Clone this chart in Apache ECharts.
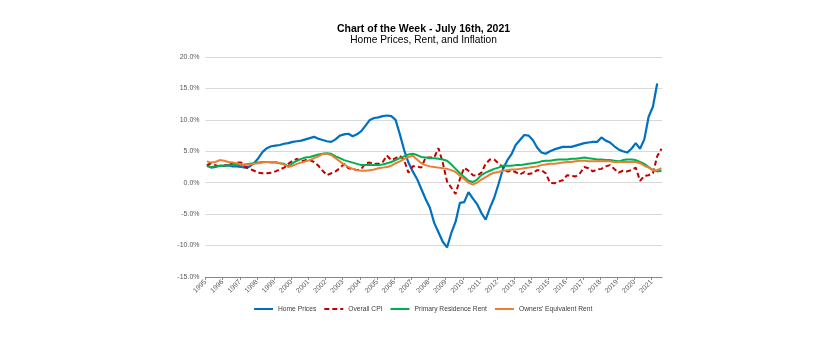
<!DOCTYPE html>
<html><head><meta charset="utf-8">
<script src="https://cdn.jsdelivr.net/npm/echarts@6.0.0/dist/echarts.min.js"></script>
<style>html,body{margin:0;padding:0;background:#fff}#c{width:830px;height:340px}</style>
</head><body><div id="c"></div>
<script>
const titleText = 'Chart of the Week - July 16th, 2021';
const subtitleText = 'Home Prices, Rent, and Inflation';
const seriesNames = ['Home Prices', 'Overall CPI', 'Primary Residence Rent', "Owners' Equivalent Rent"];
const yearTicks = [1995,1996,1997,1998,1999,2000,2001,2002,2003,2004,2005,2006,2007,2008,2009,2010,2011,2012,2013,2014,2015,2016,2017,2018,2019,2020,2021];

// quarterly observation dates (decimal years)
const dates = [
 1995.08,1995.33,1995.58,1995.83, 1996.08,1996.33,1996.58,1996.83,
 1997.08,1997.33,1997.58,1997.83, 1998.08,1998.33,1998.58,1998.83,
 1999.08,1999.33,1999.58,1999.83, 2000.08,2000.33,2000.58,2000.83,
 2001.08,2001.33,2001.58,2001.83, 2002.08,2002.33,2002.58,2002.83,
 2003.08,2003.33,2003.58,2003.83, 2004.08,2004.33,2004.58,2004.83,
 2005.08,2005.33,2005.58,2005.83, 2006.08,2006.33,2006.58,2006.83,
 2007.08,2007.33,2007.58,2007.83, 2008.08,2008.33,2008.58,2008.83,
 2009.08,2009.33,2009.58,2009.83, 2010.08,2010.33,2010.58,2010.83,
 2011.08,2011.33,2011.58,2011.83, 2012.08,2012.33,2012.58,2012.83,
 2013.08,2013.33,2013.58,2013.83, 2014.08,2014.33,2014.58,2014.83,
 2015.08,2015.33,2015.58,2015.83, 2016.08,2016.33,2016.58,2016.83,
 2017.08,2017.33,2017.58,2017.83, 2018.08,2018.33,2018.58,2018.83,
 2019.08,2019.33,2019.58,2019.83, 2020.08,2020.33,2020.58,2020.83,
 2021.08,2021.33,2021.58
];

const homePrices = [
 2.8,2.4,2.5,2.7, 2.7,2.8,2.6,2.6, 2.5,2.4,2.6,3.1, 3.9,4.9,5.5,5.8,
 5.9,6.0,6.2,6.3, 6.5,6.6,6.7,6.9, 7.1,7.3,7.0,6.8, 6.6,6.5,6.9,7.5,
 7.7,7.8,7.4,7.7, 8.2,9.1,10.0,10.3, 10.4,10.6,10.7,10.6, 10.0,7.7,5.2,3.2,
 1.8,0.6,-1.0,-2.6, -4.0,-6.4,-7.9,-9.4, -10.3,-8.0,-6.2,-3.2, -3.1,-1.5,-2.5,-3.4,
 -4.8,-5.9,-4.0,-2.4, -0.2,2.1,3.5,4.5, 6.0,6.8,7.6,7.5, 6.8,5.6,4.8,4.6,
 5.0,5.3,5.5,5.7, 5.7,5.7,5.9,6.1, 6.3,6.4,6.5,6.5, 7.2,6.7,6.4,5.8,
 5.3,5.0,4.8,5.4, 6.3,5.4,6.9,10.5, 12.1,15.8
];
const overallCPI = [
 2.8,3.1,2.8,2.6, 2.7,2.9,3.0,3.2, 3.2,2.5,2.2,1.9, 1.6,1.5,1.5,1.6,
 1.8,2.1,2.4,3.0, 3.5,3.8,3.4,3.6, 3.6,3.3,2.7,1.9, 1.2,1.5,1.8,2.3,
 3.0,2.3,2.2,2.0, 2.2,3.1,3.2,3.0, 3.0,3.3,4.3,3.6, 3.9,4.3,3.6,1.6,
 2.6,2.6,2.4,4.0, 4.0,4.0,5.5,3.2, 0.2,-0.8,-1.8,0.6, 2.4,1.9,1.2,1.1,
 1.6,3.0,3.7,3.7, 3.1,2.5,1.8,1.9, 1.7,1.3,1.7,1.4, 1.5,2.0,2.0,1.5,
 0.0,-0.1,0.2,0.4, 1.2,1.1,1.0,1.5, 2.5,2.3,1.8,2.1, 2.2,2.6,2.8,2.2,
 1.6,1.9,1.8,2.0, 2.4,0.3,1.1,1.2, 1.5,4.2,5.4
];
const primaryRent = [
 2.6,2.5,2.6,2.7, 2.7,2.7,2.8,2.8, 2.8,2.9,3.0,3.1, 3.2,3.3,3.3,3.2,
 3.2,3.1,3.0,2.6, 3.1,3.5,3.8,4.0, 4.1,4.3,4.5,4.6, 4.7,4.6,4.2,3.9,
 3.6,3.4,3.2,3.0, 2.8,2.8,2.8,2.8, 2.8,2.9,3.1,3.3, 3.6,3.9,4.2,4.5,
 4.6,4.4,4.1,4.0, 3.9,3.9,3.8,3.7, 3.5,2.9,2.2,1.5, 0.9,0.3,0.1,0.5,
 1.2,1.6,1.9,2.2, 2.4,2.7,2.7,2.7, 2.8,2.8,2.9,3.0, 3.1,3.2,3.4,3.5,
 3.5,3.6,3.7,3.7, 3.7,3.8,3.8,3.9, 4.0,3.9,3.8,3.7, 3.7,3.6,3.6,3.5,
 3.4,3.6,3.7,3.7, 3.6,3.3,3.0,2.5, 2.0,1.8,1.9
];
const ownersRent = [
 3.4,3.2,3.3,3.6, 3.5,3.3,3.2,3.1, 2.9,2.9,2.9,3.0, 3.1,3.2,3.3,3.3,
 3.3,3.1,2.9,2.5, 2.7,3.0,3.2,3.4, 3.6,3.9,4.2,4.6, 4.6,4.4,3.9,3.4,
 2.9,2.5,2.2,2.0, 1.9,1.9,2.0,2.1, 2.3,2.4,2.5,2.7, 3.1,3.4,3.8,4.1,
 4.3,3.7,3.1,2.8, 2.6,2.5,2.4,2.3, 2.2,2.0,1.7,1.1, 0.6,0.0,-0.3,0.0,
 0.5,0.9,1.3,1.6, 1.7,1.9,2.0,2.1, 2.1,2.2,2.3,2.4, 2.5,2.6,2.8,2.9,
 3.0,3.0,3.1,3.2, 3.3,3.3,3.4,3.5, 3.5,3.4,3.4,3.4, 3.4,3.4,3.4,3.3,
 3.3,3.3,3.3,3.3, 3.3,3.1,2.7,2.4, 2.0,2.0,2.3
];

const FONT = '"Liberation Sans", Arial, sans-serif';
const pairs = vals => vals.map((v, i) => [dates[i], v]);
const chart = echarts.init(document.getElementById('c'), null, {renderer: 'canvas'});
const xMin = 1995, xMax = 2021.61;

chart.setOption({
  animation: false,
  backgroundColor: '#ffffff',
  graphic: [
    {type: 'text', x: 423.5, y: 29.5, style: {text: titleText, fontSize: 10.5, fontWeight: 'bold', fontFamily: FONT, fill: '#000', align: 'center', verticalAlign: 'middle'}},
    {type: 'text', x: 423.5, y: 39.8, style: {text: subtitleText, fontSize: 10.2, fontFamily: FONT, fill: '#000', align: 'center', verticalAlign: 'middle'}}
  ],
  grid: {left: 205.5, right: 168, top: 57.1, bottom: 63.1, outerBoundsMode: 'none', containLabel: false},
  legend: {
    left: 253, top: 305.5, padding: 0, itemWidth: 19, itemHeight: 8, itemGap: 7,
    itemStyle: {opacity: 0},
    textStyle: {fontSize: 6.7, color: '#404040', fontFamily: FONT},
    data: seriesNames
  },
  xAxis: [
    {
      type: 'value', min: xMin, max: xMax, interval: 1, position: 'bottom',
      axisLine: {show: false}, axisTick: {show: false}, splitLine: {show: false},
      axisLabel: {customValues: yearTicks, rotate: 45, fontSize: 7, color: '#595959', margin: 4, fontFamily: FONT, formatter: v => String(v)}
    },
    {
      type: 'value', min: xMin, max: xMax, interval: 1, position: 'bottom',
      axisLine: {show: true, onZero: true, lineStyle: {color: '#868686', width: 1}},
      axisTick: {show: true, customValues: yearTicks, length: 3, lineStyle: {color: '#868686'}},
      axisLabel: {show: false}, splitLine: {show: false}
    }
  ],
  yAxis: {
    type: 'value', min: -15, max: 20, interval: 5,
    axisLine: {show: false}, axisTick: {show: false},
    splitLine: {show: true, lineStyle: {color: '#d9d9d9', width: 1}},
    axisLabel: {fontSize: 7, color: '#595959', margin: 6, fontFamily: FONT, formatter: v => v.toFixed(1) + '%'}
  },
  series: [
    {name: seriesNames[0], type: 'line', data: pairs(homePrices), symbol: 'none', showSymbol: false,
     lineStyle: {color: '#0070C0', width: 2.2}, itemStyle: {color: '#0070C0'}},
    {name: seriesNames[1], type: 'line', data: pairs(overallCPI), symbol: 'none', showSymbol: false,
     lineStyle: {color: '#C00000', width: 2, type: [5, 3]}, itemStyle: {color: '#C00000'}},
    {name: seriesNames[2], type: 'line', data: pairs(primaryRent), symbol: 'none', showSymbol: false,
     lineStyle: {color: '#00B050', width: 2}, itemStyle: {color: '#00B050'}},
    {name: seriesNames[3], type: 'line', data: pairs(ownersRent), symbol: 'none', showSymbol: false,
     lineStyle: {color: '#ED7D31', width: 2}, itemStyle: {color: '#ED7D31'}}
  ]
});
</script>
</body></html>
